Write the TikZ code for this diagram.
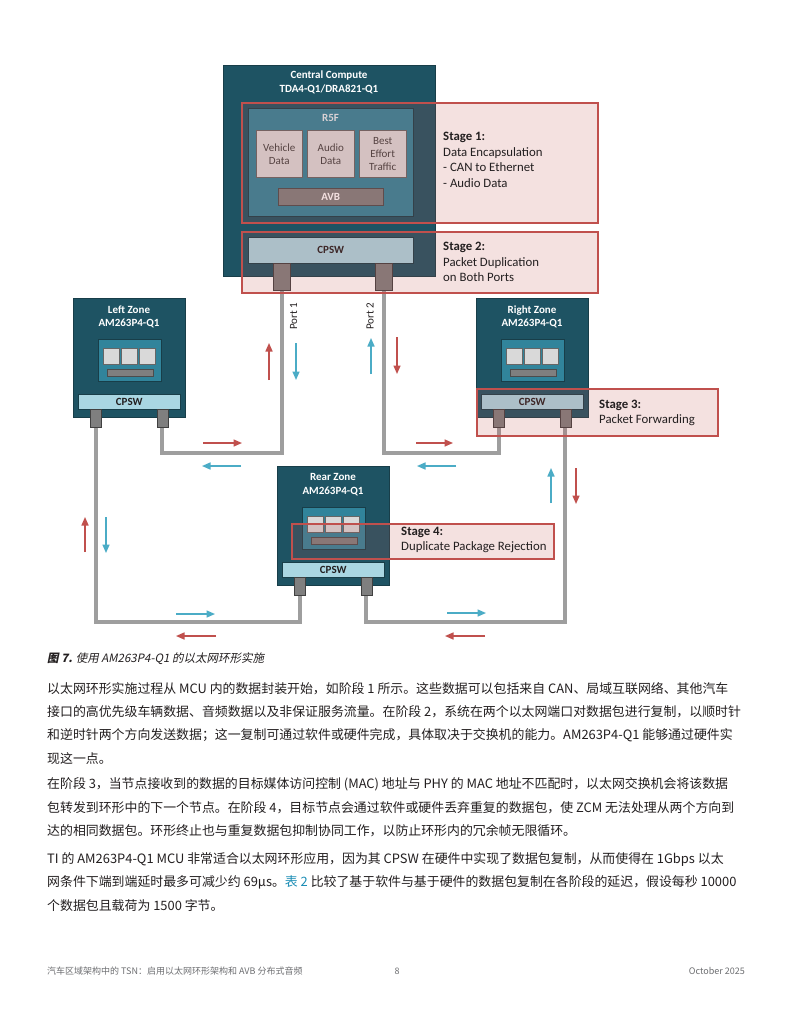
\documentclass[tikz,border=0pt]{standalone}
\usepackage{fontspec}
\setmainfont{Carlito}
\newfontfamily\cjk{Noto Sans CJK SC}
\newfontfamily\cjkit[FakeSlant=0.2]{Noto Sans CJK SC}
\usetikzlibrary{arrows.meta}
\definecolor{teal1}{HTML}{1E5363}
\definecolor{teal2}{HTML}{31849B}
\definecolor{teal3}{HTML}{183E49}
\definecolor{cpswc}{HTML}{A9D6E2}
\definecolor{sqc}{HTML}{D9D9D9}
\definecolor{gbar}{HTML}{7F7F7F}
\definecolor{wirec}{HTML}{9E9E9E}
\definecolor{redc}{HTML}{C0504D}
\definecolor{bluec}{HTML}{4BACC6}
\definecolor{txt}{HTML}{231F20}
\definecolor{footc}{HTML}{6D6E71}
\definecolor{linkc}{HTML}{1B8DB5}
\newcommand\rbox[7]{%
  \pgfmathsetmacro\bw{#5-#3}\pgfmathsetmacro\bh{#6-#4}%
  \node[#2, inner sep=0pt, minimum width=\bw pt, minimum height=\bh pt, anchor=north west] (#1) at (#3,#4) {#7};}
\newcommand\zonebox[4]{% prefix, x, y, title
  \begin{scope}[shift={(#2,#3)}]
    \rbox{#1box}{darkbox}{0}{0}{112}{119}{}
    \node[ttl, text depth=0pt] (#1ttl) at (56,18) {#4\\AM263P4-Q1};
    \rbox{#1chip}{chip}{25}{41}{88}{83}{}
    \rbox{#1sqa}{sqbox}{30}{50}{46}{66}{}
    \rbox{#1sqb}{sqbox}{48}{50}{64}{66}{}
    \rbox{#1sqc}{sqbox}{66}{50}{82}{66}{}
    \rbox{#1bar}{barbox}{34}{71}{80}{78}{}
    \rbox{#1cpsw}{cpsw}{5}{96}{107}{111}{CPSW}
  \end{scope}}
\tikzset{
  darkbox/.style={fill=teal1, draw=teal3, line width=0.5pt},
  chip/.style={fill=teal2, draw=teal3, line width=0.7pt},
  sqbox/.style={fill=sqc, draw=black!60, line width=0.5pt},
  barbox/.style={fill=gbar, draw=black!70, line width=0.5pt},
  cpsw/.style={fill=cpswc, draw=teal3, line width=0.5pt, text=txt, font=\bfseries\fontsize{11}{12}\selectfont},
  port/.style={fill=gbar, draw=black!75, line width=0.6pt},
  stagebox/.style={draw=redc, line width=2pt, fill=redc, fill opacity=0.17},
  wire/.style={draw=wirec, line width=4pt},
  ttl/.style={text=white, align=center, font=\bfseries\fontsize{11}{13.5}\selectfont},
  datab/.style={fill=sqc, draw=black!60, line width=0.5pt, align=center, text=black!75, font=\fontsize{11}{13}\selectfont},
  stg/.style={anchor=west, align=left, inner sep=0pt, text=txt, font=\fontsize{12.8}{15.5}\selectfont},
  redarr/.style={draw=redc, line width=1.5pt, -{Triangle[length=8.5pt,width=7pt]}},
  bluearr/.style={draw=bluec, line width=1.5pt, -{Triangle[length=8.5pt,width=7pt]}},
  plab/.style={rotate=90, text=txt, font=\fontsize{11}{12}\selectfont},
  body/.style={anchor=west, text=txt, font=\cjk\fontsize{12.9}{16}\selectfont, inner sep=0pt},
  foot/.style={text=footc, font=\cjk\fontsize{9}{11}\selectfont, inner sep=0pt}
}
\begin{document}
\begin{tikzpicture}[x=1pt,y=-1pt]
\useasboundingbox (0,0) rectangle (791,1024);
\fill[white] (0,0) rectangle (791,1024);
\coordinate (yA) at (0,453);
\coordinate (yB) at (0,622);
% central compute
\rbox{cc}{darkbox}{223}{65}{435}{276}{}
\node[ttl] (cct) at (329,82.5) {Central Compute\\TDA4-Q1/DRA821-Q1};
\rbox{r5f}{chip}{248}{108}{413}{216}{}
\node[text=white!85!teal2, font=\bfseries\fontsize{11}{12}\selectfont] (r5ft) at (330.5,117.5) {R5F};
\rbox{veh}{datab}{256}{130}{302}{177}{Vehicle\\Data}
\rbox{aud}{datab}{307}{130}{354}{177}{Audio\\Data}
\rbox{bet}{datab}{359}{130}{406}{177}{Best\\Effort\\Traffic}
\rbox{avb}{barbox}{278}{188}{383}{205}{}
\node[text=white, font=\bfseries\fontsize{11}{12}\selectfont] (avbt) at (avb) {AVB};
\rbox{ccpsw}{cpsw}{248}{237}{413}{263}{CPSW}
% zones
\zonebox{lz}{73}{298}{Left Zone}
\zonebox{rz}{476}{298}{Right Zone}
\zonebox{rr}{277}{466}{Rear Zone}
% ports
\rbox{cp1}{port}{273}{263}{290}{290}{}
\rbox{cp2}{port}{375}{263}{392}{290}{}
\rbox{lzp1}{port}{90}{409}{101}{427}{}
\rbox{lzp2}{port}{156.5}{409}{167.5}{427}{}
\rbox{rzp1}{port}{493}{409}{504}{427}{}
\rbox{rzp2}{port}{559.5}{409}{570.5}{427}{}
\rbox{rrp1}{port}{294}{577}{305}{595}{}
\rbox{rrp2}{port}{360.5}{577}{371.5}{595}{}
% wires
\draw[wire] (cp1.south) -- (cp1.south |- yA) -| (lzp2.south);
\draw[wire] (cp2.south) -- (cp2.south |- yA) -| (rzp1.south);
\draw[wire] (lzp1.south) -- (lzp1.south |- yB) -| (rrp1.south);
\draw[wire] (rzp2.south) -- (rzp2.south |- yB) -| (rrp2.south);
% stage overlays
\rbox{s1}{stagebox}{241}{102}{597}{222}{}
\rbox{s2}{stagebox}{241}{231}{597}{292}{}
\rbox{s3}{stagebox}{476}{388}{717}{435}{}
\rbox{s4}{stagebox}{291}{523}{553}{558}{}
\node[stg] (s1t) at (443,160) {\textbf{Stage 1:}\\Data Encapsulation\\- CAN to Ethernet\\- Audio Data};
\node[stg] (s2t) at (443,262) {\textbf{Stage 2:}\\Packet Duplication\\on Both Ports};
\node[stg] (s3t) at (599,413) {\textbf{Stage 3:}\\Packet Forwarding};
\node[stg] (s4t) at (401,540) {\textbf{Stage 4:}\\Duplicate Package Rejection};
% port labels
\node[plab] (pl1) at (293.5,316.5) {Port 1};
\node[plab] (pl2) at (370,316.5) {Port 2};
% direction arrows
\draw[redarr] (269,380) -- (269,343);
\draw[bluearr] (296,343) -- (296,380);
\draw[bluearr] (371,374) -- (371,338);
\draw[redarr] (397,337) -- (397,374);
\draw[redarr] (203,443) -- (242,443);
\draw[bluearr] (241,466) -- (202,466);
\draw[redarr] (416,443) -- (453,443);
\draw[bluearr] (456,466) -- (417,466);
\draw[redarr] (85,552) -- (85,517);
\draw[bluearr] (106,517) -- (106,553);
\draw[bluearr] (551,503) -- (551,468);
\draw[redarr] (576,468) -- (576,504);
\draw[bluearr] (176,614) -- (215,614);
\draw[redarr] (216,636) -- (176,636);
\draw[bluearr] (447,613) -- (486,613);
\draw[redarr] (485,636) -- (445,636);
% caption
\node[anchor=west, text=txt, inner sep=0pt, font=\cjkit\fontsize{11.5}{14}\selectfont] (cap) at (47,659) {{\bfseries 图 7.} 使用 AM263P4-Q1 的以太网环形实施};
% body
\node[body] (b1) at (47,689) {以太网环形实施过程从 MCU 内的数据封装开始，如阶段 1 所示。这些数据可以包括来自 CAN、局域互联网络、其他汽车};
\node[body] (b2) at (47,712) {接口的高优先级车辆数据、音频数据以及非保证服务流量。在阶段 2，系统在两个以太网端口对数据包进行复制，以顺时针};
\node[body] (b3) at (47,735.5) {和逆时针两个方向发送数据；这一复制可通过软件或硬件完成，具体取决于交换机的能力。AM263P4-Q1 能够通过硬件实};
\node[body] (b4) at (47,758.5) {现这一点。};
\node[body] (b5) at (47,784.5) {在阶段 3，当节点接收到的数据的目标媒体访问控制 (MAC) 地址与 PHY 的 MAC 地址不匹配时，以太网交换机会将该数据};
\node[body] (b6) at (47,807.5) {包转发到环形中的下一个节点。在阶段 4，目标节点会通过软件或硬件丢弃重复的数据包，使 ZCM 无法处理从两个方向到};
\node[body] (b7) at (47,830.5) {达的相同数据包。环形终止也与重复数据包抑制协同工作，以防止环形内的冗余帧无限循环。};
\node[body] (b8) at (47,859) {TI 的 AM263P4-Q1 MCU 非常适合以太网环形应用，因为其 CPSW 在硬件中实现了数据包复制，从而使得在 1Gbps 以太};
\node[body] (b9) at (47,882.5) {网条件下端到端延时最多可减少约 69μs。{\color{linkc}表 2} 比较了基于软件与基于硬件的数据包复制在各阶段的延迟，假设每秒 10000};
\node[body] (b10) at (47,905.5) {个数据包且载荷为 1500 字节。};
% footer
\node[foot, anchor=west] (f1) at (47,971) {汽车区域架构中的 TSN：启用以太网环形架构和 AVB 分布式音频};
\node[foot] (f2) at (397,971) {8};
\node[foot, anchor=east] (f3) at (745,971) {October 2025};
\end{tikzpicture}
\end{document}
